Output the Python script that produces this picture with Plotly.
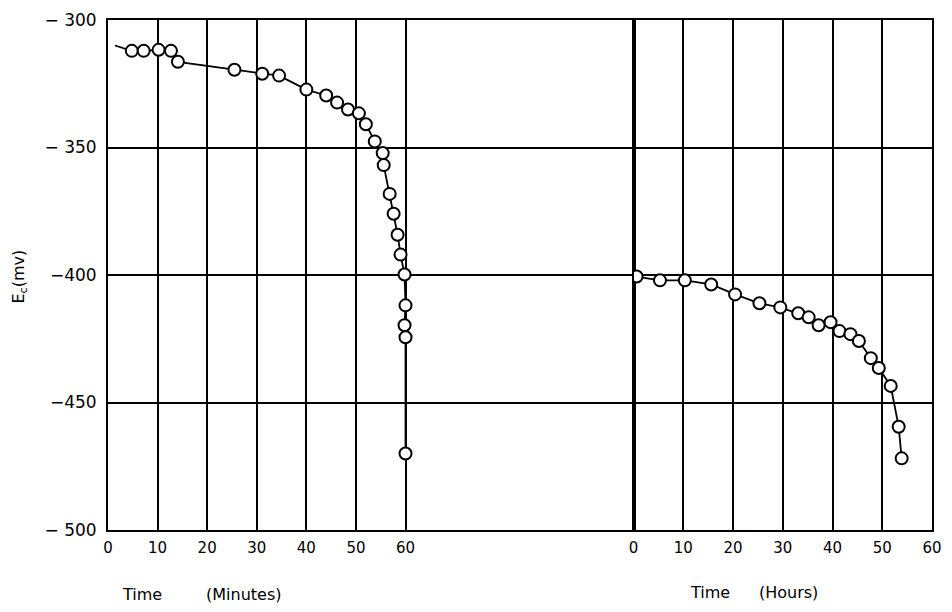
import plotly.graph_objects as go

# ---- data ----
minutes = [1.4, 4.8, 7.2, 10.2, 12.7, 14.1, 25.5, 31.1, 34.5, 40.0, 44.0, 46.2, 48.4, 50.6,
           52.0, 53.8, 55.4, 55.6, 56.8, 57.6, 58.4, 59.0, 59.8, 60.0, 59.8, 60.0, 60.0]
ec_minutes = [-310.0, -312.1, -312.1, -311.7, -312.1, -316.4, -319.5, -321.1, -321.8, -327.3,
              -329.6, -332.4, -335.1, -336.6, -340.9, -347.6, -352.2, -356.9, -368.2, -376.0,
              -384.2, -392.0, -399.8, -411.9, -419.7, -424.4, -470.0]
hours = [0.6, 5.3, 10.3, 15.6, 20.4, 25.3, 29.5, 33.1, 35.2, 37.2, 39.6, 41.4, 43.6, 45.3,
         47.7, 49.3, 51.7, 53.3, 53.9]
ec_hours = [-400.6, -402.1, -402.1, -403.7, -407.6, -411.1, -412.7, -415.0, -416.6, -419.7,
            -418.5, -422.0, -423.2, -425.9, -432.6, -436.5, -443.5, -459.5, -471.9]

x_ticks = [0, 10, 20, 30, 40, 50, 60]
y_ticks = [-500, -450, -400, -350, -300]
y_ticktext = ["\u2212 500", "\u2212450", "\u2212400", "\u2212 350", "\u2212 300"]

W, H = 952, 612
ML, MR, MT, MB = 108, 10, 17, 82
split = (640 - ML) / (W - ML - MR)

FONT = "DejaVu Sans"

fig = go.Figure()

line_style = dict(color="black", width=1.8)
marker_style = dict(size=12, color="white", opacity=1, line=dict(color="black", width=2))

# left panel (minutes): line starts just before the first plotted circle
fig.add_trace(go.Scatter(x=minutes, y=ec_minutes, mode="lines", xaxis="x", yaxis="y",
                         line=line_style, showlegend=False, hoverinfo="skip"))
fig.add_trace(go.Scatter(x=minutes[1:], y=ec_minutes[1:], mode="markers", xaxis="x", yaxis="y",
                         marker=marker_style, showlegend=False, hoverinfo="skip"))
# right panel (hours)
fig.add_trace(go.Scatter(x=hours, y=ec_hours, mode="lines", xaxis="x2", yaxis="y",
                         line=line_style, showlegend=False, hoverinfo="skip"))
fig.add_trace(go.Scatter(x=hours, y=ec_hours, mode="markers", xaxis="x2", yaxis="y",
                         marker=marker_style, showlegend=False, hoverinfo="skip"))

axis_common = dict(showgrid=True, gridcolor="black", gridwidth=2, zeroline=False,
                   showline=True, linecolor="black", linewidth=2, mirror=True,
                   ticks="", tickfont=dict(family=FONT, size=15, color="black"))

fig.update_layout(
    width=W, height=H,
    margin=dict(l=ML, r=MR, t=MT, b=MB),
    paper_bgcolor="white", plot_bgcolor="white",
    xaxis=dict(domain=[0, split], range=[0, 106], tickvals=x_ticks, anchor="y",
               ticklabelstandoff=3, **axis_common),
    xaxis2=dict(domain=[split, 1], range=[0, 60], tickvals=x_ticks, anchor="y",
                ticklabelstandoff=3, **axis_common),
    yaxis=dict(range=[-500, -300], tickvals=y_ticks, ticktext=y_ticktext,
               showgrid=True, gridcolor="black", gridwidth=2, zeroline=False,
               showline=True, linecolor="black", linewidth=2, mirror="all",
               ticks="", ticklabelstandoff=6,
               tickfont=dict(family=FONT, size=17, color="black")),
)

pw = W - ML - MR
ph = H - MT - MB
def px(xp):
    return (xp - ML) / pw
def py(yp):
    return (H - MB - yp) / ph

annots = [
    dict(text="Time", x=px(120), y=py(595)),
    dict(text="(Minutes)", x=px(205), y=py(595)),
    dict(text="Time", x=px(695), y=py(593)),
    dict(text="(Hours)", x=px(765), y=py(593)),
]
for a in annots:
    fig.add_annotation(text=a["text"], x=a["x"], y=a["y"], xref="paper", yref="paper",
                       xanchor="left", yanchor="middle", showarrow=False,
                       font=dict(family=FONT, size=16, color="black"))
fig.add_annotation(text="E<sub>c</sub>(mv)", x=px(18), y=py(275), xref="paper", yref="paper",
                   textangle=-90, xanchor="center", yanchor="middle", showarrow=False,
                   font=dict(family=FONT, size=16, color="black"))

fig.write_html("out.html")
